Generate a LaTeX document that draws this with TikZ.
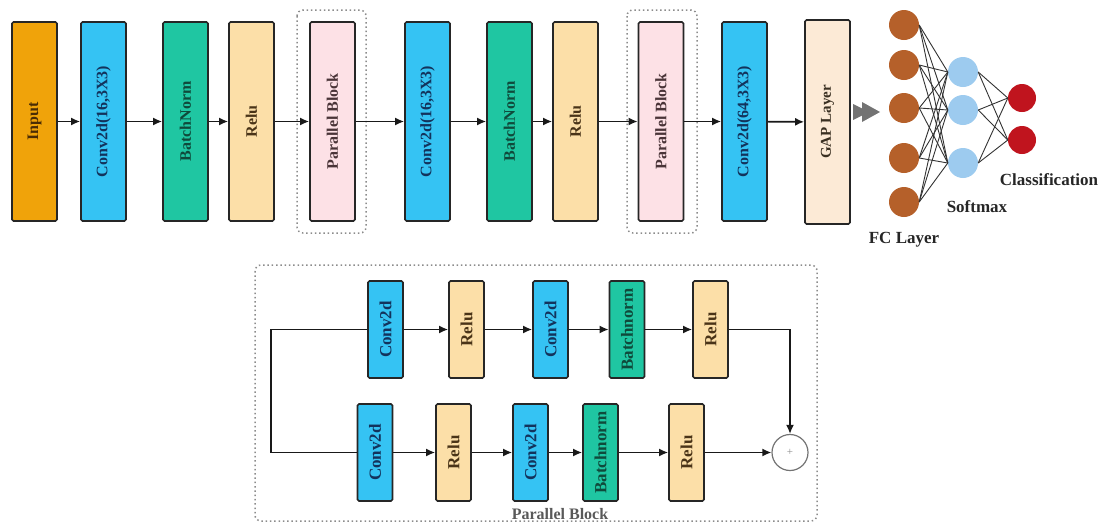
\documentclass[tikz,border=0pt]{standalone}
\usepackage{fontspec}
\setmainfont{Liberation Serif}
\usepackage{graphicx}
\usetikzlibrary{arrows.meta}

% fills
\definecolor{cInput}{HTML}{F0A30A}
\definecolor{cConv}{HTML}{35C3F3}
\definecolor{cBN}{HTML}{1FC6A2}
\definecolor{cRelu}{HTML}{FCDFA8}
\definecolor{cPar}{HTML}{FDE1E6}
\definecolor{cGap}{HTML}{FCEAD6}
\definecolor{cFC}{HTML}{B5602A}
\definecolor{cSM}{HTML}{9DCBEF}
\definecolor{cCls}{HTML}{C0141E}
% label inks
\definecolor{tInput}{HTML}{4A2C05}
\definecolor{tConv}{HTML}{13335C}
\definecolor{tBN}{HTML}{0F4A3B}
\definecolor{tRelu}{HTML}{4A3418}
\definecolor{tPar}{HTML}{4A3438}
\definecolor{tGap}{HTML}{3A3022}

\tikzset{
  layer/.style={draw=black!85, line width=1.7pt, rounded corners=1.5pt, inner sep=0pt},
  toplayer/.style={layer, minimum width=45pt, minimum height=199pt,
                   font=\bfseries\fontsize{16}{17}\selectfont},
  sublayer/.style={layer, minimum width=35pt, minimum height=97pt,
                   font=\bfseries\fontsize{17}{18}\selectfont},
  conv/.style={fill=cConv, text=tConv},
  bnorm/.style={fill=cBN, text=tBN},
  relu/.style={fill=cRelu, text=tRelu},
  flow/.style={-{Latex[length=9pt,width=8pt]}, line width=1.7pt, draw=black!90},
  link/.style={line width=1.7pt, draw=black!90},
  frame/.style={draw=black!45, line width=1.5pt, dash pattern=on 1.5pt off 2.8pt, rounded corners=6pt},
  neuron/.style={circle, inner sep=0pt, minimum size=#1},
  mesh/.style={line width=0.9pt, draw=black!80},
  caption/.style={font=\bfseries\fontsize{17}{18}\selectfont, text=black!85},
}

\begin{document}
\begin{tikzpicture}[x=1pt, y=-1pt]
\useasboundingbox (0,0) rectangle (1102,523);

% ---------- main pipeline ----------
\draw[frame] (297,10) rectangle (366,233);
\draw[frame] (627,10) rectangle (697,233);

\node[toplayer, fill=cInput, text=tInput] (in) at (34.5,121.5) {\rotatebox{90}{Input}};
\node[toplayer, conv]  (c1) at (103.5,121.5) {\rotatebox{90}{Conv2d(16,3X3)}};
\node[toplayer, bnorm] (b1) at (185.5,121.5) {\rotatebox{90}{BatchNorm}};
\node[toplayer, relu]  (r1) at (251.5,121.5) {\rotatebox{90}{Relu}};
\node[toplayer, fill=cPar, text=tPar] (p1) at (332.5,121.5) {\rotatebox{90}{Parallel Block}};
\node[toplayer, conv]  (c2) at (427.5,121.5) {\rotatebox{90}{Conv2d(16,3X3)}};
\node[toplayer, bnorm] (b2) at (509.5,121.5) {\rotatebox{90}{BatchNorm}};
\node[toplayer, relu]  (r2) at (575.5,121.5) {\rotatebox{90}{Relu}};
\node[toplayer, fill=cPar, text=tPar] (p2) at (661,121.5) {\rotatebox{90}{Parallel Block}};
\node[toplayer, conv]  (c3) at (744.5,121.5) {\rotatebox{90}{Conv2d(64,3X3)}};
\node[toplayer, fill=cGap, text=tGap, minimum height=204pt,
      font=\bfseries\fontsize{15}{16}\selectfont] (gap) at (827.5,122) {\rotatebox{90}{GAP Layer}};

\draw[flow] (in) -- (c1);
\draw[flow] (c1) -- (b1);
\draw[flow] (b1) -- (r1);
\draw[flow] (r1) -- (p1);
\draw[flow] (p1) -- (c2);
\draw[flow] (c2) -- (b2);
\draw[flow] (b2) -- (r2);
\draw[flow] (r2) -- (p2);
\draw[flow] (p2) -- (c3);
\draw[flow] (c3) -- (gap);

% hand-off chevrons
\fill[black!55] (853,104) -- (869,112) -- (853,120) -- cycle;
\fill[black!55] (862,102) -- (880,112) -- (862,122) -- cycle;

% ---------- dense head ----------
\foreach \i/\y in {1/25,2/65,3/108,4/158,5/202}
  \node[neuron=30pt, fill=cFC] (fc\i) at (904,\y) {};
\foreach \j/\y in {1/72,2/110,3/163}
  \node[neuron=30pt, fill=cSM] (sm\j) at (963,\y) {};
\foreach \k/\y in {1/98,2/140}
  \node[neuron=28pt, fill=cCls] (cl\k) at (1022,\y) {};

\foreach \i in {1,...,5}
  \foreach \j in {1,2,3}
    \draw[mesh] (fc\i.east) -- (sm\j.west);
\foreach \j in {1,2,3}
  \foreach \k in {1,2}
    \draw[mesh] (sm\j.east) -- (cl\k.west);

\node[caption] (fcl)  at (904,240) {FC Layer};
\node[caption] (sml)  at (977,207) {Softmax};
\node[caption] (cll)  at (1049,180) {Classification};

% ---------- parallel block detail ----------
\draw[frame] (255,265) rectangle (817,521);

\node[sublayer, conv]  (u1) at (385.5,329.5) {\rotatebox{90}{Conv2d}};
\node[sublayer, relu]  (u2) at (466.5,329.5) {\rotatebox{90}{Relu}};
\node[sublayer, conv]  (u3) at (550.5,329.5) {\rotatebox{90}{Conv2d}};
\node[sublayer, bnorm] (u4) at (627,329.5)   {\rotatebox{90}{Batchnorm}};
\node[sublayer, relu]  (u5) at (710.5,329.5) {\rotatebox{90}{Relu}};

\node[sublayer, conv]  (d1) at (375,452.5)   {\rotatebox{90}{Conv2d}};
\node[sublayer, relu]  (d2) at (453.5,452.5) {\rotatebox{90}{Relu}};
\node[sublayer, conv]  (d3) at (530.5,452.5) {\rotatebox{90}{Conv2d}};
\node[sublayer, bnorm] (d4) at (600.5,452.5) {\rotatebox{90}{Batchnorm}};
\node[sublayer, relu]  (d5) at (686.5,452.5) {\rotatebox{90}{Relu}};

\node[circle, draw=black!55, line width=1.2pt, minimum size=36pt, inner sep=0pt,
      text=black!45, font=\fontsize{11}{11}\selectfont] (sum) at (790,452.5) {+};

\coordinate (forkU) at (271,329.5);
\coordinate (forkD) at (271,452.5);
\draw[link] (u1.west) -- (forkU) -- (forkD) -- (d1.west);

\draw[flow] (u1) -- (u2);
\draw[flow] (u2) -- (u3);
\draw[flow] (u3) -- (u4);
\draw[flow] (u4) -- (u5);
\draw[flow] (u5.east) -| (sum.north);

\draw[flow] (d1) -- (d2);
\draw[flow] (d2) -- (d3);
\draw[flow] (d3) -- (d4);
\draw[flow] (d4) -- (d5);
\draw[flow] (d5) -- (sum);

\node[font=\bfseries\fontsize{16}{17}\selectfont, text=black!65] (pbl) at (560,514) {Parallel Block};
\end{tikzpicture}
\end{document}
